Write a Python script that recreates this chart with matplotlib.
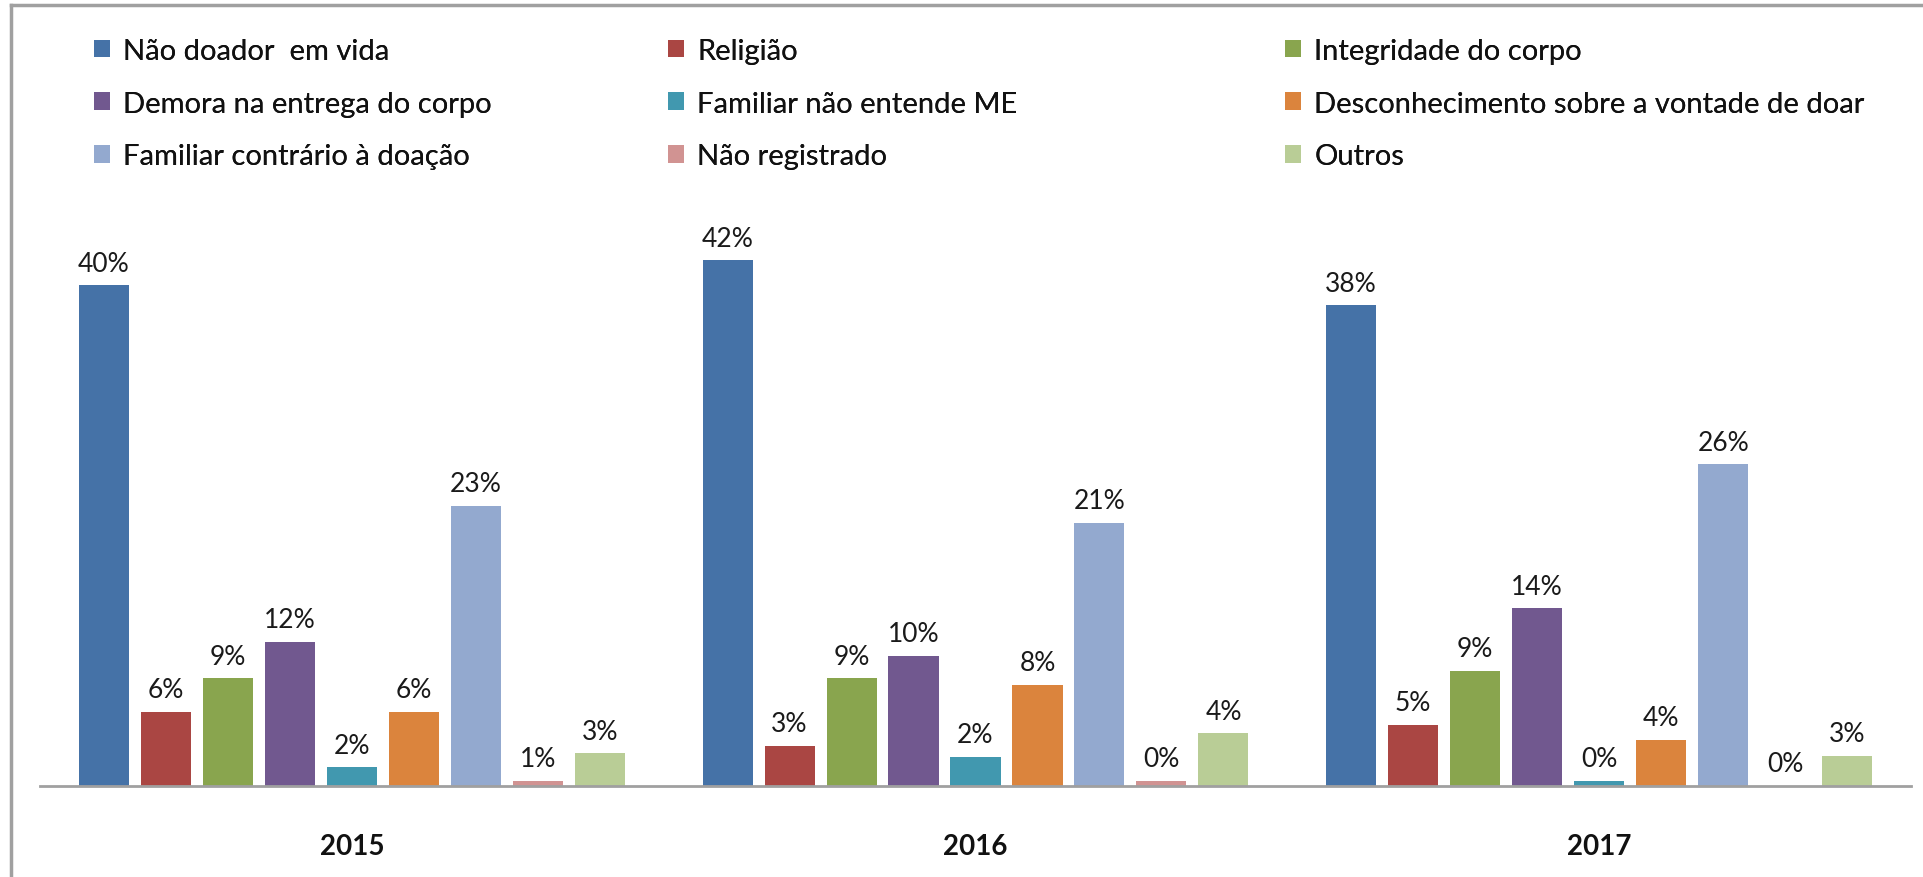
#!/usr/bin/env python3
"""Motivos de não doação por ano - barras agrupadas"""

import matplotlib
matplotlib.use('Agg')
import matplotlib.pyplot as plt
from matplotlib.lines import Line2D
import numpy as np

plt.rcParams['font.family'] = ['Lato', 'DejaVu Sans']

anos = ['2015', '2016', '2017']
motivos = [
    'Não doador  em vida', 'Religião', 'Integridade do corpo',
    'Demora na entrega do corpo', 'Familiar não entende ME', 'Desconhecimento sobre a vontade de doar',
    'Familiar contrário à doação', 'Não registrado', 'Outros',
]
cores = ['#4572A7', '#AA4643', '#89A54E', '#71588F', '#4198AF',
         '#DB843D', '#93A9CF', '#D19392', '#B9CD96']

# valores (%) por motivo, na ordem dos anos
nao_doador = [40.0, 42.0, 38.4]
religiao = [5.9, 3.2, 4.9]
integridade = [8.6, 8.6, 9.2]
demora = [11.5, 10.4, 14.2]
nao_entende = [1.5, 2.3, 0.4]
desconhecimento = [5.9, 8.1, 3.7]
contrario = [22.4, 21.0, 25.7]
nao_registrado = [0.4, 0.4, 0.0]
outros = [2.6, 4.2, 2.4]

# rótulos como aparecem no gráfico original
rotulos = [
    ['40%', '42%', '38%'], ['6%', '3%', '5%'], ['9%', '9%', '9%'],
    ['12%', '10%', '14%'], ['2%', '2%', '0%'], ['6%', '8%', '4%'],
    ['23%', '21%', '26%'], ['1%', '0%', '0%'], ['3%', '4%', '3%'],
]

series = [nao_doador, religiao, integridade, demora, nao_entende,
          desconhecimento, contrario, nao_registrado, outros]

fig = plt.figure(figsize=(19.24, 8.78), dpi=100)
ax = fig.add_axes([40 / 1924, 91 / 878, 1871 / 1924, 607 / 878])

x = np.arange(len(anos))
passo = 0.0994
largura = 0.0802
handles = []
for i, (vals, cor, nome) in enumerate(zip(series, cores, motivos)):
    barras = ax.bar(x + (i - 4) * passo, vals, largura, color=cor, linewidth=0, label=nome)
    ax.bar_label(barras, labels=rotulos[i], padding=7, fontsize=19, color='#1a1a1a')
    handles.append(barras)

ax.set_xlim(-0.5, 2.5)
ax.set_ylim(0, 48.5)
ax.set_yticks([])
ax.set_xticks(x)
ax.set_xticklabels(anos, fontsize=20, fontweight='bold', color='#111111')
ax.tick_params(axis='x', length=0, pad=34)
for s in ['top', 'left', 'right']:
    ax.spines[s].set_visible(False)
ax.spines['bottom'].set_color('#A0A0A0')
ax.spines['bottom'].set_linewidth(2)

# legenda em três colunas fixas, como no Excel
col_x = [94, 668, 1285]
for j in range(3):
    idx = [j, j + 3, j + 6]
    leg = fig.legend([handles[k] for k in idx], [motivos[k] for k in idx],
                     loc='upper left', bbox_to_anchor=(col_x[j] / 1924, 1 - 39 / 878),
                     frameon=False, fontsize=21, handlelength=0.55, handleheight=0.55,
                     handletextpad=0.45, labelspacing=0.91, borderaxespad=0, borderpad=0)
    for t in leg.get_texts():
        t.set_color('#111111')
    fig.add_artist(leg)

# moldura cinza (esquerda e topo)
fig.add_artist(Line2D([11 / 1924, 11 / 1924], [0, 1 - 6 / 878], color='#A0A0A0', lw=2.5))
fig.add_artist(Line2D([11 / 1924, 1], [1 - 6 / 878, 1 - 6 / 878], color='#A0A0A0', lw=2.5))

plt.savefig('out.png', dpi=100)
